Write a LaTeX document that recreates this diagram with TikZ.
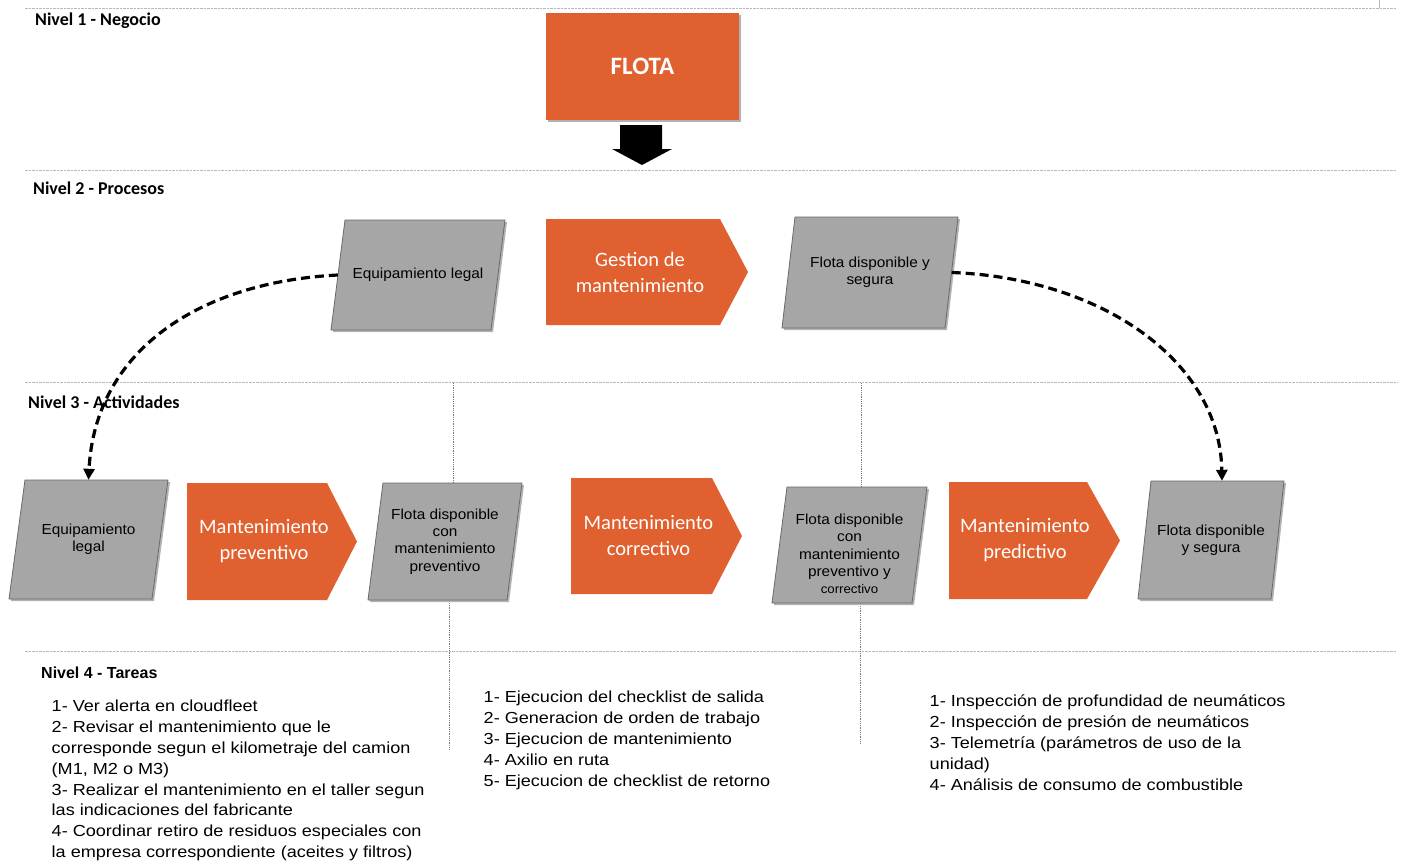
\documentclass[tikz,border=0pt]{standalone}
\usepackage{fontspec}
\setmainfont{Liberation Sans}
\newfontfamily\calfont{Carlito}
\newfontfamily\listfont[FakeStretch=1.13]{Liberation Sans}
\newfontfamily\boxfont[FakeStretch=1.06]{Liberation Sans}
\usetikzlibrary{arrows.meta,calc}
\definecolor{orng}{HTML}{E0602F}
\definecolor{gfillc}{HTML}{A6A6A6}
\definecolor{gbord}{HTML}{6A6A6A}
\definecolor{sepc}{HTML}{B8B8B8}
\definecolor{vsepc}{HTML}{7A7A7A}
\tikzset{
  gtext/.style={inner sep=0pt, align=center, text=black, font=\boxfont\fontsize{14.5}{17.3}\selectfont},
  gshape/.style={inner sep=0pt},
  otext/.style={inner sep=0pt, align=center, text=white, font=\calfont\fontsize{20.5}{26}\selectfont},
  lvl/.style={inner sep=0pt, anchor=base west, font=\calfont\bfseries\fontsize{18}{20}\selectfont},
  lvlb/.style={inner sep=0pt, anchor=base west, font=\bfseries\fontsize{16}{18}\selectfont},
  tlist/.style={inner sep=0pt, anchor=north west, align=left, font=\listfont\fontsize{16}{20.8}\selectfont},
  hsep/.style={draw=sepc, line width=0.9pt, dash pattern=on 2.5pt off 1pt},
  vsep/.style={draw=vsepc, line width=0.9pt, dash pattern=on 1pt off 0.8pt},
  dcurve/.style={draw=black, line width=3.2pt, dash pattern=on 9pt off 5pt, -{Triangle[length=11pt,width=11pt]}},
}
% parallelogram: #1 name, #2 xl, #3 xr, #4 ytop, #5 ybot, #6 skew, #7 text dy, #8 text
\newcommand\gpar[8]{%
  \fill[black!30] (#2+#6+2,#4+2) -- (#3+2,#4+2) -- (#3-#6+2,#5+2) -- (#2+2,#5+2) -- cycle;
  \filldraw[fill=gfillc,draw=gbord,line width=0.8pt] (#2+#6,#4) -- (#3,#4) -- (#3-#6,#5) -- (#2,#5) -- cycle;
  \node[gshape,minimum width={#3-#2-#6},minimum height={#5-#4}] (#1) at ({(#2+#3)/2},{(#4+#5)/2}) {};
  \node[gtext] (#1t) at ($(#1.center)+(0,#7)$) {#8};
}
% orange arrow: #1 name, #2 x1, #3 x2, #4 xtip, #5 ytop, #6 ybot, #7 text
\newcommand\oarr[7]{%
  \fill[orng] (#2,#5) -- (#3,#5) -- (#4,{(#5+#6)/2}) -- (#3,#6) -- (#2,#6) -- cycle;
  \node[otext] (#1) at ({(#2+#3)/2+7},{(#5+#6)/2}) {#7};
}
\begin{document}
\begin{tikzpicture}[x=1pt,y=-1pt]
\useasboundingbox (0,0) rectangle (1401,865);
\fill[white] (0,0) rectangle (1401,865);

% level separators
\draw[hsep] (25,8) -- (1396,8);
\draw[hsep] (25,170) -- (1396,170);
\draw[hsep] (25,382) -- (1398,382);
\draw[hsep] (25,651) -- (1396,651);
\draw[draw=sepc, line width=0.9pt] (1379,0) -- (1379,8);

% vertical dotted separators
\draw[vsep] (453,383) -- (453,483);
\draw[vsep] (449,603) -- (449,750);
\draw[vsep] (861,383) -- (861,487);
\draw[vsep] (860,597) -- (860,743);

% level labels
\node[lvl] (n1) at (35,25) {Nivel 1 - Negocio};
\node[lvl] (n2) at (33,194) {Nivel 2 - Procesos};
\node[lvl] (n3) at (28,408) {Nivel 3 - Actividades};
\node[lvlb] (n4) at (41,678) {Nivel 4 - Tareas};

% level 1
\fill[black!30] (548,15) rectangle (741,122);
\node[fill=orng, minimum width=193pt, minimum height=107pt, inner sep=0pt, text=white,
      font=\calfont\bfseries\fontsize{25}{28}\selectfont] (flota) at (642.5,66.5) {FLOTA};
\fill[black] (620,125) -- (662,125) -- (662,149) -- (672,149) -- (642,165) -- (612,149) -- (620,149) -- cycle;

% level 2
\gpar{eq2}{331}{505}{220}{330}{14}{0}{Equipamiento legal}
\oarr{gm}{546}{720}{748}{219}{325}{Gestion de\\mantenimiento}
\gpar{fl2}{782}{958}{217}{328}{13}{0}{Flota disponible y\\segura}

% level 3
\gpar{eq3}{9}{168}{480}{599}{16}{0}{Equipamiento\\legal}
\oarr{mp}{187}{327}{357}{483}{600}{Mantenimiento\\preventivo}
\gpar{fp3}{368}{522}{483}{600}{15}{0}{Flota disponible\\con\\mantenimiento\\preventivo}
\oarr{mc}{571}{712}{742}{478}{594}{Mantenimiento\\correctivo}
\gpar{fpc3}{772}{927}{487}{603}{15}{9}{Flota disponible\\con\\mantenimiento\\preventivo y\\{\fontsize{12.5}{15}\selectfont correctivo}}
\oarr{mpr}{949}{1087}{1120}{482}{599}{Mantenimiento\\predictivo}
\gpar{fs3}{1138}{1284}{481}{599}{13}{0}{Flota disponible\\y segura}

% dashed connectors
\draw[dcurve] (eq2.west) .. controls (200,282) and (95,350) .. (eq3.north);
\draw[dcurve] (fl2.east) .. controls (1100,278) and (1220,360) .. ($(fs3.north)+(11,0)$);

% level 4 task lists
\node[tlist] (t1) at (51.5,700) {1- Ver alerta en cloudfleet\\
2- Revisar el mantenimiento que le\\
corresponde segun el kilometraje del camion\\
(M1, M2 o M3)\\
3- Realizar el mantenimiento en el taller segun\\
las indicaciones del fabricante\\
4- Coordinar retiro de residuos especiales con\\
la empresa correspondiente (aceites y filtros)};
\node[tlist] (t2) at (483.5,691) {1- Ejecucion del checklist de salida\\
2- Generacion de orden de trabajo\\
3- Ejecucion de mantenimiento\\
4- Axilio en ruta\\
5- Ejecucion de checklist de retorno};
\node[tlist] (t3) at (929.5,695) {1- Inspección de profundidad de neumáticos\\
2- Inspección de presión de neumáticos\\
3- Telemetría (parámetros de uso de la\\
unidad)\\
4- Análisis de consumo de combustible};
\end{tikzpicture}
\end{document}
